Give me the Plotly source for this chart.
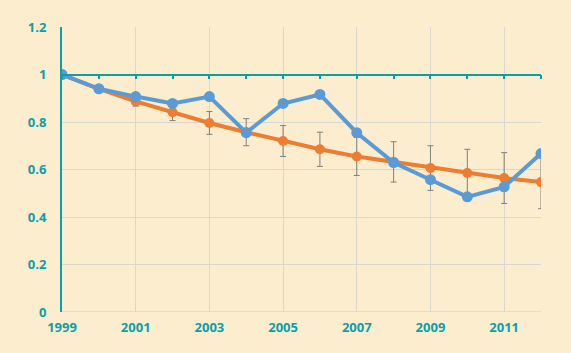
import plotly.graph_objects as go

years = list(range(1999, 2013))
blue = [1.0, 0.94, 0.907, 0.878, 0.907, 0.755, 0.878, 0.916, 0.755, 0.629, 0.557, 0.485, 0.527, 0.667]
orange = [1.0, 0.94, 0.887, 0.841, 0.796, 0.757, 0.720, 0.685, 0.655, 0.632, 0.606, 0.585, 0.564, 0.547]
orange_err = [0, 0, 0.02, 0.035, 0.048, 0.057, 0.065, 0.072, 0.08, 0.085, 0.094, 0.1, 0.107, 0.112]
y_ticks = [0, 0.2, 0.4, 0.6, 0.8, 1, 1.2]
y_labels = ["0", "0.2", "0.4", "0.6", "0.8", "1", "1.2"]
x_ticks = [1999, 2001, 2003, 2005, 2007, 2009, 2011]

teal = "#0AA0A8"
bg = "#FDEDCF"
grid = "#D9D7D0"
tfont = dict(family="Open Sans", size=13, color=teal, weight="bold")

fig = go.Figure()
fig.add_trace(go.Scatter(
    x=years, y=orange, mode="lines+markers",
    line=dict(color="#ED7D31", width=4), marker=dict(size=10, color="#ED7D31"),
    error_y=dict(type="data", array=orange_err, visible=True, color="#7F7F7F", thickness=1, width=3),
    showlegend=False))
fig.add_trace(go.Scatter(
    x=years, y=blue, mode="lines+markers",
    line=dict(color="#5B9BD5", width=4), marker=dict(size=11, color="#5B9BD5"),
    showlegend=False))
# invisible trace for the axis line at y=1
fig.add_trace(go.Scatter(x=years, y=[1] * len(years), xaxis="x2", mode="lines",
                         line=dict(width=0), hoverinfo="skip", showlegend=False))

fig.update_layout(
    width=571, height=353,
    margin=dict(l=62, r=30, t=27, b=41),
    paper_bgcolor=bg, plot_bgcolor=bg,
    font=dict(family="Open Sans", size=13, color=teal),
    xaxis=dict(range=[1999, 2012], tickvals=x_ticks, ticktext=[str(v) for v in x_ticks],
               showgrid=True, gridcolor=grid, gridwidth=1, zeroline=False,
               showline=False, ticks="", ticklabelstandoff=6, tickfont=tfont),
    xaxis2=dict(range=[1999, 2012], overlaying="x", anchor="free", position=1 / 1.2,
                side="bottom", showgrid=False, zeroline=False, showline=True, linecolor=teal,
                linewidth=1.5, ticks="outside", ticklen=4, tickwidth=1.5, tickcolor=teal,
                tickvals=years, showticklabels=False),
    yaxis=dict(range=[0, 1.2], tickvals=y_ticks, ticktext=y_labels,
               showgrid=True, gridcolor=grid, gridwidth=1, zeroline=False,
               showline=True, linecolor=teal, linewidth=2, ticks="", ticklabelstandoff=11,
               tickfont=tfont),
)
fig.add_hline(y=0, line=dict(color=grid, width=1.5), layer="below")

fig.write_html("out.html")
